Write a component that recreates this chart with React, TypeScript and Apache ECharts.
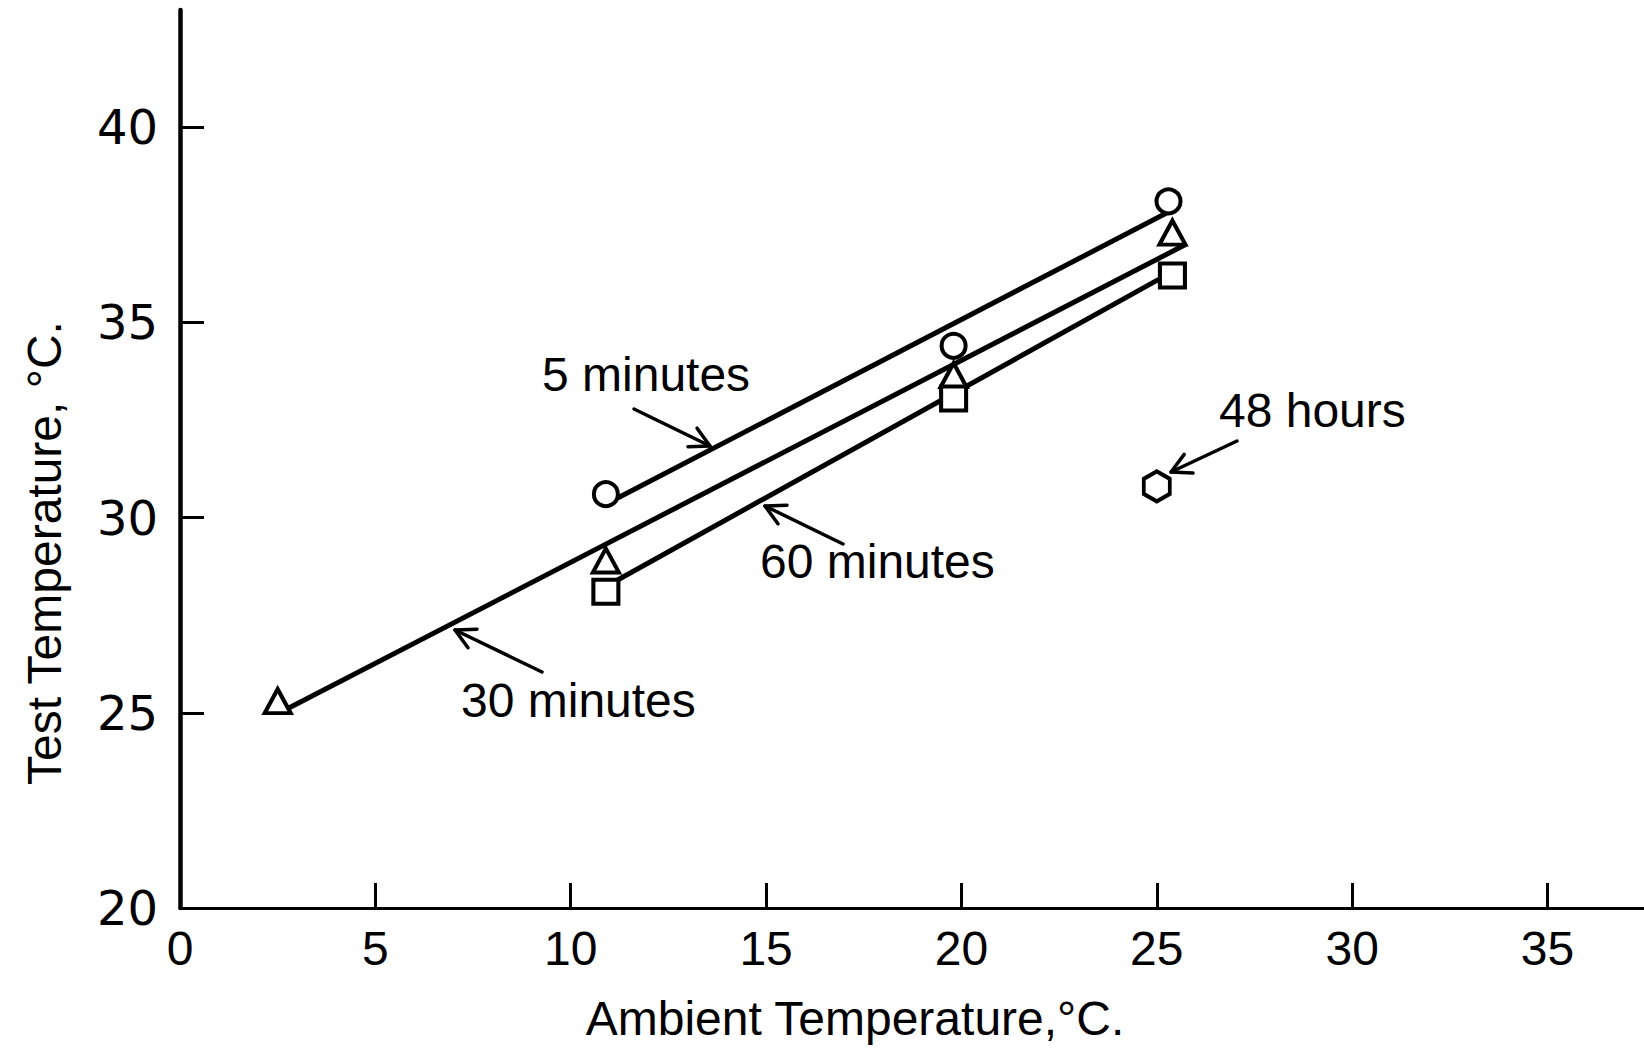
import React, { useEffect, useRef } from "react";
import * as echarts from "echarts";

// Axis ticks and labels
const xTickValues = [5, 10, 15, 20, 25, 30, 35];
const xLabelValues = [0, 5, 10, 15, 20, 25, 30, 35];
const yTickValues = [25, 30, 35, 40];
const yLabelValues = [20, 25, 30, 35, 40];

// Measured points [ambient °C, test °C]
const fiveMinPoints = [
  [10.9, 30.6],
  [19.8, 34.4],
  [25.3, 38.1],
];
const thirtyMinPoints = [
  [2.5, 25.3],
  [10.9, 28.9],
  [19.8, 33.65],
  [25.4, 37.3],
];
const sixtyMinPoints = [
  [10.9, 28.1],
  [19.8, 33.05],
  [25.4, 36.2],
];
const fortyEightHourPoints = [[25.0, 30.8]];

// Fitted lines (end points)
const fiveMinLine = [
  [11.2, 30.5],
  [25.25, 37.8],
];
const thirtyMinLine = [
  [2.55, 25.0],
  [25.75, 37.0],
];
const sixtyMinLine = [
  [11.2, 28.4],
  [25.05, 36.1],
];

const FONT = "'Liberation Sans', Arial, sans-serif";
const YFONT = "'DejaVu Sans', 'Liberation Sans', sans-serif";

function arrow(tail: number[], tip: number[]) {
  const dx = tail[0] - tip[0];
  const dy = tail[1] - tip[1];
  const len = Math.hypot(dx, dy);
  const ux = dx / len;
  const uy = dy / len;
  const a = (28 * Math.PI) / 180;
  const h = 22;
  const rot = (ang: number) => [
    tip[0] + h * (ux * Math.cos(ang) - uy * Math.sin(ang)),
    tip[1] + h * (ux * Math.sin(ang) + uy * Math.cos(ang)),
  ];
  const style = { stroke: "#000", lineWidth: 3.5, fill: null as any, lineCap: "round", lineJoin: "round" };
  return [
    { type: "line", shape: { x1: tail[0], y1: tail[1], x2: tip[0], y2: tip[1] }, style },
    { type: "polyline", shape: { points: [rot(a), tip, rot(-a)] }, style },
  ];
}

function label(text: string, x: number, y: number) {
  return {
    type: "text",
    x,
    y,
    style: { text, font: `48px ${FONT}`, fill: "#000", align: "left", verticalAlign: "middle" },
  };
}

export default function App() {
  const ref = useRef<HTMLDivElement>(null);

  useEffect(() => {
    if (!ref.current) return;
    const chart = echarts.init(ref.current, null, { renderer: "svg" });

    const markerStyle = { color: "#fff", borderColor: "#000", borderWidth: 4, opacity: 1 };
    const lineStyle = { color: "#000", width: 5 };

    chart.setOption({
      animation: false,
      backgroundColor: "#fff",
      grid: { left: 180, right: 0, top: 10, bottom: 141 },
      xAxis: {
        type: "value",
        min: 0,
        max: 37.47,
        interval: 5,
        axisLine: { show: true, lineStyle: { color: "#000", width: 3 } },
        axisTick: { show: true, inside: true, length: 25, customValues: xTickValues, lineStyle: { color: "#000", width: 3 } },
        axisLabel: { customValues: xLabelValues, color: "#000", fontSize: 48, fontFamily: FONT, margin: 16 },
        splitLine: { show: false },
      },
      yAxis: {
        type: "value",
        min: 20,
        max: 43,
        interval: 5,
        axisLine: { show: true, lineStyle: { color: "#000", width: 4.5 } },
        axisTick: { show: true, inside: true, length: 24, customValues: yTickValues, lineStyle: { color: "#000", width: 3 } },
        axisLabel: { customValues: yLabelValues, color: "#000", fontSize: 48, fontFamily: YFONT, margin: 22 },
        splitLine: { show: false },
      },
      series: [
        { name: "5 minutes line", type: "line", data: fiveMinLine, symbol: "none", lineStyle, z: 2 },
        { name: "30 minutes line", type: "line", data: thirtyMinLine, symbol: "none", lineStyle, z: 2 },
        { name: "60 minutes line", type: "line", data: sixtyMinLine, symbol: "none", lineStyle, z: 2 },
        { name: "5 minutes", type: "scatter", data: fiveMinPoints, symbol: "circle", symbolSize: 24, itemStyle: markerStyle, z: 3 },
        { name: "30 minutes", type: "scatter", data: thirtyMinPoints, symbol: "triangle", symbolSize: [26, 24], itemStyle: markerStyle, z: 3 },
        { name: "60 minutes", type: "scatter", data: sixtyMinPoints, symbol: "rect", symbolSize: [25, 24], itemStyle: markerStyle, z: 3 },
        {
          name: "48 hours",
          type: "scatter",
          data: fortyEightHourPoints,
          symbol: "path://M0,-1L0.866,-0.5L0.866,0.5L0,1L-0.866,0.5L-0.866,-0.5Z",
          symbolSize: [26, 30],
          itemStyle: markerStyle,
          z: 3,
        },
      ],
      graphic: [
        {
          type: "text",
          x: 44,
          y: 553,
          rotation: Math.PI / 2,
          style: { text: "Test Temperature, °C.", font: `48px ${FONT}`, fill: "#000", align: "center", verticalAlign: "middle" },
        },
        {
          type: "text",
          x: 855,
          y: 1018,
          style: { text: "Ambient Temperature,°C.", font: `48px ${FONT}`, fill: "#000", align: "center", verticalAlign: "middle" },
        },
        label("5 minutes", 542, 374),
        label("60 minutes", 760, 561),
        label("30 minutes", 461, 700),
        label("48 hours", 1219, 410),
        ...arrow([634, 409], [710, 446]),
        ...arrow([843, 544], [765, 506]),
        ...arrow([542, 672], [455, 630]),
        ...arrow([1237, 441], [1171, 472]),
      ],
    });

    return () => chart.dispose();
  }, []);

  return (
    <div
      ref={ref}
      style={{ position: "absolute", left: 0, top: 0, width: 1644, height: 1049, background: "#fff" }}
    />
  );
}
